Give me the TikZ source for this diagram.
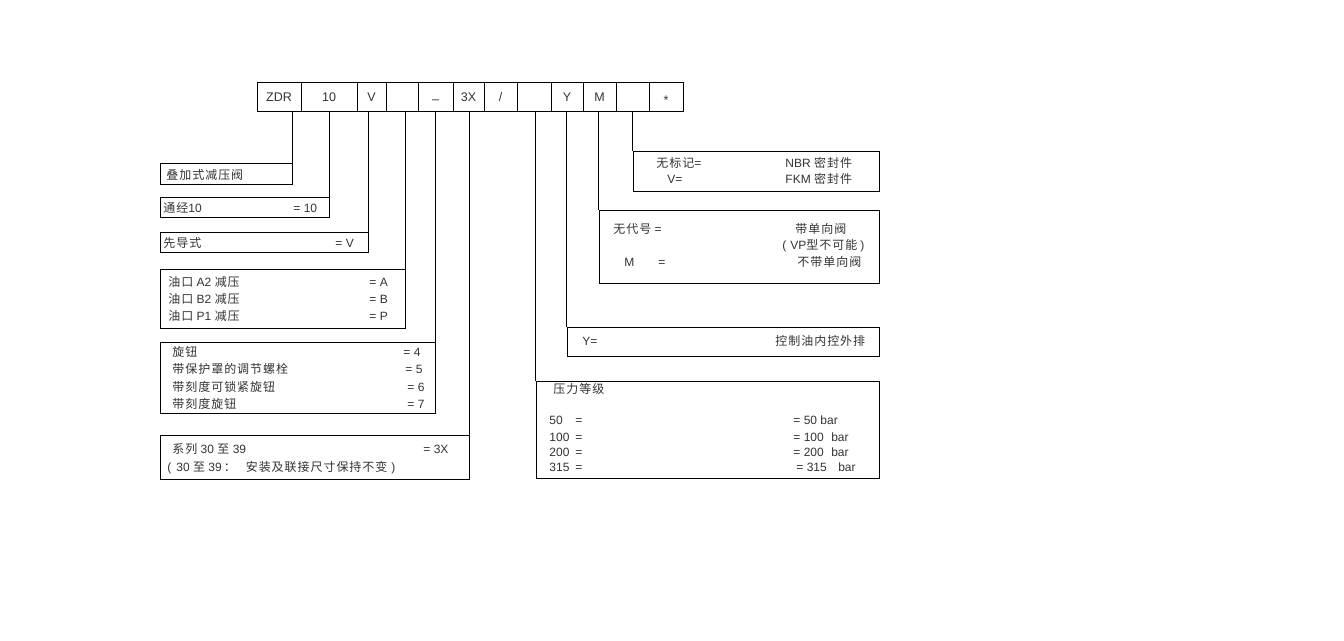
\documentclass[tikz,border=0pt]{standalone}
\usepackage{fontspec}
\setmainfont{Liberation Sans}
\newfontfamily\cjk{Noto Sans CJK SC}[LetterSpace=8]
\newcommand\zh[1]{{\cjk #1}}
\definecolor{txt}{HTML}{333333}
\begin{document}
\begin{tikzpicture}[x=1pt,y=-1pt,line width=0.9pt,
  cell/.style={draw,minimum height=29pt,inner sep=0pt,text=txt,font=\fontsize{12.5}{14}\selectfont,text height=10pt,text depth=1pt},
  lbl/.style={anchor=west,inner sep=0pt,text=txt,font=\fontsize{12}{14}\selectfont,text height=10pt,text depth=1pt},
  boxr/.style={draw,inner sep=0pt}]
\useasboundingbox[fill=white] (0,0) rectangle (1344,640);
% top row cells
\node[cell,minimum width=44pt] (c1) at (279,96.5) {ZDR};
\node[cell,minimum width=56pt] (c2) at (329,96.5) {10};
\node[cell,minimum width=29pt] (c3) at (371.5,96.5) {V};
\node[cell,minimum width=32pt] (c4) at (402,96.5) {};
\node[cell,minimum width=35pt] (c5) at (435.5,96.5) {\raisebox{-2pt}{--}};
\node[cell,minimum width=31pt] (c6) at (468.5,96.5) {3X};
\node[cell,minimum width=33pt] (c7) at (500.5,96.5) {/};
\node[cell,minimum width=34pt] (c8) at (534,96.5) {};
\node[cell,minimum width=32pt] (c9) at (567,96.5) {Y};
\node[cell,minimum width=33pt] (c10) at (599.5,96.5) {M};
\node[cell,minimum width=33pt] (c11) at (632.5,96.5) {};
\node[cell,minimum width=34pt] (c12) at (666,96.5) {\raisebox{-3pt}{*}};
% boxes
\node[boxr,minimum width=132pt,minimum height=21pt] (b1) at (226,173.5) {};
\node[boxr,minimum width=169pt,minimum height=20pt] (b2) at (244.5,207) {};
\node[boxr,minimum width=208pt,minimum height=20pt] (b3) at (264,242) {};
\node[boxr,minimum width=245pt,minimum height=59pt] (b4) at (282.5,298.5) {};
\node[boxr,minimum width=275pt,minimum height=71pt] (b5) at (297.5,377.5) {};
\node[boxr,minimum width=309pt,minimum height=44pt] (b6) at (314.5,457) {};
\node[boxr,minimum width=246pt,minimum height=40pt] (b7) at (756,171) {};
\node[boxr,minimum width=280pt,minimum height=73pt] (b8) at (739,246.5) {};
\node[boxr,minimum width=312pt,minimum height=29pt] (b9) at (723,341.5) {};
\node[boxr,minimum width=343pt,minimum height=97pt] (b10) at (707.5,429.5) {};
% connectors
\draw (b1.north east |- c1.south) -- (b1.north east);
\draw (b2.north east |- c2.south) -- (b2.north east);
\draw (b3.north east |- c3.south) -- (b3.north east);
\draw (b4.north east |- c4.south) -- (b4.north east);
\draw (b5.north east |- c5.south) -- (b5.north east);
\draw (b6.north east |- c6.south) -- (b6.north east);
\draw (b10.north west |- c8.south) -- (b10.north west);
\draw (b9.north west |- c9.south) -- (b9.north west);
\draw (b8.north west |- c10.south) -- (b8.north west);
\draw (b7.north west |- c11.south) -- (b7.north west);
% texts left
\node[lbl] (t1) at (166,175) {\zh{叠加式减压阀}};
\node[lbl] (t2a) at (163,208) {\zh{通经}10};
\node[lbl] (t2b) at (293,208) {= 10};
\node[lbl] (t3a) at (163,243) {\zh{先导式}};
\node[lbl] (t3b) at (335,243) {= V};
\node[lbl] (t4a) at (168,282) {\zh{油口} A2 \zh{减压}};
\node[lbl] (t4b) at (168,299) {\zh{油口} B2 \zh{减压}};
\node[lbl] (t4c) at (168,316) {\zh{油口} P1 \zh{减压}};
\node[lbl] (t4d) at (369,282) {= A};
\node[lbl] (t4e) at (369,299) {= B};
\node[lbl] (t4f) at (369,316) {= P};
\node[lbl] (t5a) at (172,352) {\zh{旋钮}};
\node[lbl] (t5b) at (172,369) {\zh{带保护罩的调节螺栓}};
\node[lbl] (t5c) at (172,387) {\zh{带刻度可锁紧旋钮}};
\node[lbl] (t5d) at (172,404) {\zh{带刻度旋钮}};
\node[lbl] (t5e) at (403,352) {= 4};
\node[lbl] (t5f) at (405,369) {= 5};
\node[lbl] (t5g) at (407,387) {= 6};
\node[lbl] (t5h) at (407,404) {= 7};
\node[lbl] (t6a) at (172,449) {\zh{系列} 30 \zh{至} 39};
\node[lbl] (t6b) at (423,449) {= 3X};
\node[lbl] (t6c) at (167,467) {(\hspace{5pt}30 \zh{至} 39\hspace{2pt}\zh{：}\hspace{10pt}\zh{安装及联接尺寸保持不变}\hspace{4pt})};
% texts right
\node[lbl] (t7a) at (656,163) {\zh{无标记}=};
\node[lbl] (t7b) at (667,179) {V=};
\node[lbl] (t7c) at (785,163) {NBR \zh{密封件}};
\node[lbl] (t7d) at (785,179) {FKM \zh{密封件}};
\node[lbl] (t8a) at (613,229) {\zh{无代号} =};
\node[lbl] (t8b) at (795,229) {\zh{带单向阀}};
\node[lbl] (t8c) at (782,245) {(\hspace{4pt}VP\zh{型不可能}\hspace{3pt})};
\node[lbl] (t8d) at (624,262) {M};
\node[lbl] (t8e) at (658,262) {=};
\node[lbl] (t8f) at (797,262) {\zh{不带单向阀}};
\node[lbl] (t9a) at (582,341) {Y=};
\node[lbl] (t9b) at (775,341) {\zh{控制油内控外排}};
\node[lbl] (t10) at (553,389) {\zh{压力等级}};
\node[lbl] (p1) at (549,420) {50};
\node[lbl] (p2) at (549,437) {100};
\node[lbl] (p3) at (549,452) {200};
\node[lbl] (p4) at (549,467) {315};
\node[lbl] (q1) at (575,420) {=};
\node[lbl] (q2) at (575,437) {=};
\node[lbl] (q3) at (575,452) {=};
\node[lbl] (q4) at (575,467) {=};
\node[lbl] (r1) at (793,420) {= 50 bar};
\node[lbl] (r2) at (793,437) {= 100\hspace{7.5pt}bar};
\node[lbl] (r3) at (793,452) {= 200\hspace{7.5pt}bar};
\node[lbl] (r4) at (796,467) {= 315\hspace{11.5pt}bar};
\end{tikzpicture}
\end{document}
